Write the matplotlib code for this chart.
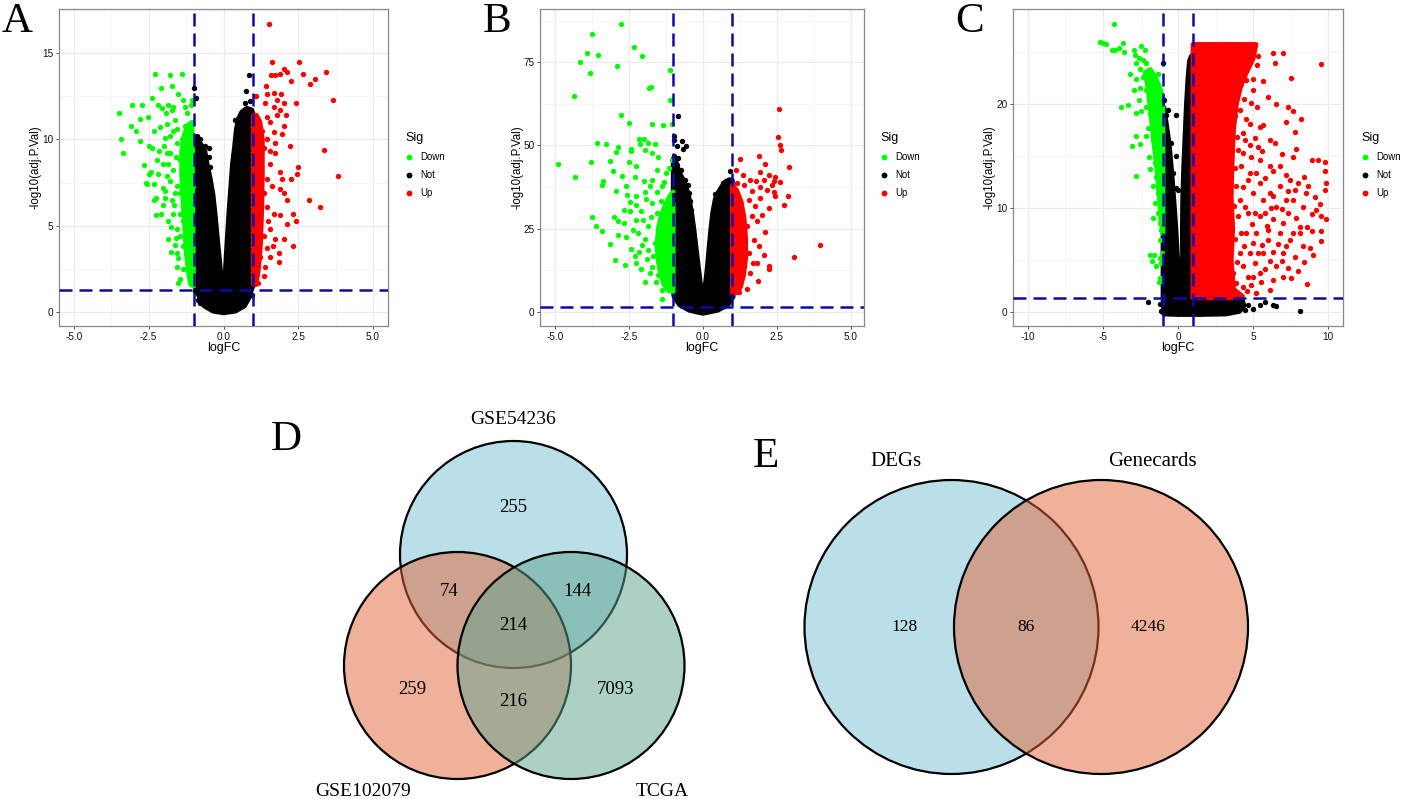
import numpy as np
import matplotlib.pyplot as plt
from matplotlib.lines import Line2D
from matplotlib.patches import Polygon, Circle

plt.rcParams["font.family"] = ["Liberation Sans", "DejaVu Sans"]
SERIF = ["Liberation Serif", "DejaVu Serif"]

W, H = 1412, 799
LOGFC_CUT = 1.0
P_CUT = -np.log10(0.05)

GREEN, BLACK, RED = "#00FF00", "#000000", "#FF0000"
LINE_BLUE = "#0A0AAA"

# ---------------- volcano A (logFC, -log10 adj.P) ----------------
a_down = np.array([
    [-3.49, 11.5], [-3.43, 10.0], [-3.35, 9.2], [-3.07, 12.0], [-3.10, 10.8], [-2.94, 10.5],
    [-2.79, 11.2], [-2.74, 12.0], [-2.79, 9.9], [-2.66, 8.5], [-2.53, 11.3], [-2.40, 12.4],
    [-2.29, 13.8], [-2.10, 13.0], [-1.79, 13.7], [-1.73, 13.1], [-1.40, 13.8], [-1.51, 12.6],
    [-1.36, 12.3], [-1.06, 12.3], [-2.34, 10.5], [-2.40, 9.5], [-2.43, 8.1], [-2.32, 7.4],
    [-2.25, 6.6], [-2.25, 5.6], [-2.10, 5.7], [-2.01, 7.2], [-2.18, 8.0], [-1.84, 4.2],
    [-1.62, 3.9], [-1.51, 3.1], [-1.56, 2.6], [-1.45, 1.9], [-1.51, 1.7], [-1.17, 2.1],
    [-1.09, 1.6], [-1.92, 11.5], [-1.84, 12.0], [-1.68, 11.9], [-1.62, 11.1], [-2.12, 10.7],
    [-1.95, 10.1], [-1.79, 9.2], [-2.03, 8.6], [-1.90, 7.9], [-1.73, 6.5], [-1.56, 7.3],
    [-1.45, 8.8], [-1.40, 10.0], [-1.28, 10.8], [-1.23, 11.5], [-1.12, 10.8], [-1.45, 5.7],
    [-1.56, 4.8], [-1.34, 3.8], [-1.23, 4.6], [-1.28, 6.5], [-1.17, 8.0], [-1.06, 9.4],
    [-1.12, 6.1], [-1.09, 5.0], [-1.06, 3.0], [-1.17, 3.2], [-1.36, 2.5], [-1.03, 7.3],
    [-1.68, 10.5], [-1.90, 9.2], [-2.23, 8.8], [-1.68, 8.2], [-1.84, 5.3], [-1.68, 5.7],
    [-2.01, 6.2], [-2.34, 6.5], [-2.57, 7.4], [-2.48, 8.0], [-1.56, 9.8], [-1.23, 9.4],
    [-1.23, 7.5], [-1.34, 8.4], [-1.45, 6.9], [-1.62, 6.9], [-1.34, 5.3], [-1.23, 5.3],
    [-1.06, 4.2], [-1.45, 4.4], [-1.73, 11.7], [-1.90, 10.9], [-2.20, 12.0], [-1.10, 12.0],
    [-1.30, 11.9], [-1.95, 7.0], [-2.60, 7.5], [-2.50, 9.6], [-1.60, 4.3], [-1.75, 3.5],
    [-1.80, 7.6], [-1.85, 8.6], [-2.00, 9.6], [-1.60, 9.0], [-1.55, 10.6], [-1.80, 10.2],
    [-2.05, 11.8], [-1.65, 6.2], [-1.95, 6.6], [-1.75, 4.9], [-1.55, 3.4], [-2.15, 9.3],
])
a_up = np.array([
    [1.53, 16.7], [1.62, 14.5], [2.52, 14.5], [2.01, 14.1], [2.12, 13.9], [1.90, 13.8],
    [2.66, 13.8], [3.44, 13.9], [3.05, 13.5], [2.88, 13.2], [2.27, 13.4], [1.59, 13.7],
    [1.73, 13.7], [1.43, 13.1], [3.65, 12.3], [2.41, 12.1], [2.01, 12.1], [1.92, 12.6],
    [1.68, 12.7], [1.09, 12.5], [1.40, 12.1], [1.68, 11.9], [1.90, 11.7], [1.79, 11.4],
    [1.45, 11.3], [1.17, 11.1], [1.56, 11.0], [2.01, 10.8], [1.28, 10.5], [1.68, 10.4],
    [1.96, 10.3], [1.09, 10.0], [1.45, 10.0], [1.73, 9.8], [2.21, 9.6], [3.35, 9.4],
    [1.34, 9.5], [1.17, 9.0], [1.73, 9.2], [1.56, 8.6], [1.23, 8.4], [2.50, 8.4],
    [1.90, 8.1], [2.47, 8.0], [3.82, 7.9], [1.12, 7.9], [1.45, 7.7], [2.27, 7.7],
    [1.96, 7.7], [1.17, 7.2], [1.62, 7.3], [1.90, 7.1], [2.01, 6.9], [1.34, 6.9],
    [1.12, 6.5], [2.85, 6.5], [2.12, 6.5], [3.24, 6.1], [1.45, 6.1], [1.23, 5.7],
    [1.68, 5.7], [2.34, 5.7], [1.90, 5.6], [2.43, 5.3], [2.12, 5.1], [1.17, 5.0],
    [1.56, 4.8], [1.34, 4.4], [1.12, 4.2], [2.01, 4.2], [1.73, 4.2], [2.34, 3.8],
    [1.45, 3.7], [1.84, 3.4], [1.23, 3.2], [1.56, 3.2], [1.87, 2.9], [1.12, 2.8],
    [1.40, 2.6], [1.12, 2.3], [1.34, 2.1], [1.17, 1.7], [1.06, 1.6], [1.55, 9.3],
    [1.50, 5.3], [1.65, 3.8], [1.45, 12.6], [1.80, 12.3], [2.10, 11.4],
])
a_not = np.array([
    [-0.98, 12.97], [-0.92, 12.4], [-0.89, 10.2], [-0.78, 10.0], [-0.61, 9.6], [-0.47, 9.5],
    [-0.50, 9.0], [-0.67, 9.2], [-0.45, 8.4], [-0.78, 0.5], [-0.85, 0.7], [0.84, 13.7],
    [0.75, 12.8], [0.73, 12.1], [0.47, 11.2], [0.39, 11.1], [0.60, 11.5], [0.78, 11.7],
    [0.50, 10.8], [0.42, 10.4], [0.37, 9.8], [0.90, 12.2], [0.95, 1.0], [-0.95, 1.2],
])
# outlines of the solid, overplotted parts of each cloud
a_not_core = [
    (0.0, -0.05), (-0.35, 0.05), (-0.65, 0.35), (-0.8, 0.85), (-0.92, 1.3), (-1.0, 1.6),
    (-1.0, 10.2), (-0.9, 10.1), (-0.75, 9.7), (-0.62, 9.3), (-0.55, 8.6), (-0.45, 7.8),
    (-0.35, 6.8), (-0.27, 5.5), (-0.2, 4.2), (-0.12, 2.8), (-0.04, 1.1), (0.02, 1.1),
    (0.08, 3.0), (0.13, 4.4), (0.18, 5.8), (0.24, 7.2), (0.3, 8.6), (0.37, 9.6),
    (0.43, 10.6), (0.5, 11.2), (0.62, 11.6), (0.78, 11.8), (0.95, 11.7), (1.0, 11.4),
    (1.0, 1.6), (0.93, 1.25), (0.85, 0.8), (0.7, 0.35), (0.4, 0.05),
]
a_down_core = [
    (-1.0, 1.5), (-1.1, 1.6), (-1.18, 2.4), (-1.25, 3.5), (-1.3, 5.0), (-1.36, 6.5),
    (-1.4, 8.0), (-1.4, 9.3), (-1.32, 10.2), (-1.2, 10.8), (-1.05, 11.0),
]
a_up_core = [
    (1.0, 1.6), (1.1, 1.7), (1.17, 2.5), (1.24, 4.0), (1.28, 6.0), (1.3, 8.0),
    (1.3, 10.0), (1.22, 11.0), (1.1, 11.4), (1.0, 11.4),
]

# ---------------- volcano B ----------------
b_down = np.array([
    [-2.77, 86.4], [-3.73, 83.4], [-2.32, 79.5], [-3.90, 77.8], [-3.54, 77.2], [-2.05, 77.0],
    [-4.16, 75.0], [-2.90, 74.0], [-3.80, 71.9], [-1.11, 72.8], [-1.75, 67.5], [-1.82, 67.2],
    [-4.36, 64.9], [-1.11, 63.5], [-2.75, 59.0], [-2.49, 56.7], [-1.72, 56.5], [-1.33, 56.2],
    [-1.03, 56.5], [-4.90, 44.4], [-4.33, 40.6], [-3.77, 45.1], [-3.58, 50.8], [-3.26, 50.4],
    [-2.86, 49.6], [-2.94, 48.1], [-2.44, 48.8], [-2.15, 51.9], [-1.99, 51.9], [-2.13, 50.5],
    [-1.84, 50.7], [-1.60, 50.5], [-2.44, 48.2], [-1.96, 48.7], [-1.73, 47.7], [-1.50, 46.5],
    [-1.05, 45.7], [-3.13, 45.2], [-2.50, 44.9], [-2.24, 43.7], [-3.03, 42.4], [-2.74, 40.7],
    [-3.37, 39.2], [-3.40, 38.0], [-2.94, 36.2], [-2.60, 37.7], [-2.56, 35.2], [-2.24, 34.7],
    [-2.26, 32.2], [-2.67, 30.5], [-2.47, 30.2], [-2.10, 30.2], [-1.93, 33.9], [-1.79, 37.7],
    [-1.99, 39.2], [-1.70, 39.7], [-1.56, 35.9], [-1.40, 33.2], [-1.39, 37.7], [-1.24, 41.7],
    [-1.13, 43.2], [-3.73, 28.6], [-3.62, 25.7], [-3.40, 24.2], [-3.00, 28.5], [-2.86, 27.2],
    [-2.66, 26.7], [-2.87, 23.2], [-2.58, 22.5], [-3.12, 20.4], [-2.41, 18.9], [-2.96, 15.5],
    [-2.64, 13.9], [-2.30, 16.7], [-2.24, 14.7], [-2.07, 12.7], [-1.96, 8.9], [-1.79, 11.7],
    [-1.58, 8.9], [-1.39, 6.5], [-1.38, 3.9], [-2.18, 23.7], [-2.01, 27.7], [-2.35, 24.7],
    [-1.73, 32.7], [-1.84, 25.7], [-1.62, 20.7], [-1.67, 16.7], [-1.90, 15.7], [-1.33, 15.7],
    [-1.45, 23.7], [-1.22, 29.7], [-1.56, 29.7], [-1.11, 10.7], [-1.22, 7.7], [-2.05, 20.0],
    [-2.25, 27.5], [-2.45, 33.0], [-1.95, 36.0], [-2.30, 40.5], [-1.55, 42.5], [-1.30, 39.0],
    [-1.75, 28.5], [-1.95, 22.0], [-1.85, 18.5], [-1.70, 13.5], [-1.50, 11.0], [-2.15, 18.0],
])
b_up = np.array([
    [2.57, 61.0], [2.53, 52.5], [2.62, 50.0], [2.65, 48.5], [1.90, 46.7], [1.27, 46.0],
    [2.09, 44.5], [2.93, 43.5], [1.13, 42.5], [1.95, 42.0], [2.23, 41.2], [2.45, 40.5],
    [1.36, 41.2], [1.61, 39.7], [1.81, 39.2], [2.06, 39.7], [2.42, 39.2], [2.34, 38.2],
    [1.15, 38.7], [1.40, 38.2], [1.66, 36.2], [2.17, 36.7], [2.45, 34.7], [2.87, 34.7],
    [2.74, 32.2], [1.95, 34.2], [1.55, 33.7], [1.27, 33.2], [1.78, 31.7], [2.23, 31.2],
    [1.32, 29.7], [1.66, 28.7], [2.00, 29.2], [1.15, 26.7], [1.49, 25.7], [1.83, 27.2],
    [1.38, 22.7], [1.72, 21.7], [1.89, 19.7], [1.27, 18.7], [1.55, 17.7], [2.06, 16.9],
    [2.23, 13.7], [1.83, 14.7], [1.38, 13.7], [1.15, 11.7], [1.61, 11.7], [1.86, 9.2],
    [1.27, 8.7], [1.49, 6.7], [1.21, 5.9], [3.96, 20.2], [3.10, 16.5], [2.23, 12.7],
    [1.70, 14.7], [1.15, 23.7], [1.04, 31.7], [1.10, 15.7], [2.10, 24.0], [2.40, 36.0],
    [1.95, 37.5], [2.60, 39.0],
])
b_not = np.array([
    [-0.83, 58.7], [-0.97, 52.7], [-0.71, 51.2], [-0.57, 49.7], [-0.66, 48.9], [-0.97, 46.7],
    [-0.83, 46.2], [-0.86, 44.2], [-0.75, 42.5], [-0.90, 41.7], [-0.60, 39.7], [-0.49, 38.2],
    [-0.66, 37.2], [-0.45, 35.7], [-0.97, 35.2], [-0.88, 33.7], [-0.43, 33.2], [-0.40, 30.7],
    [-0.54, 28.2], [0.93, 42.2], [0.79, 39.2], [0.70, 38.7], [0.42, 35.4], [0.53, 34.7],
    [0.48, 29.7], [-0.97, 51.7], [-0.88, 49.7],
])
b_not_core = [
    (0.0, -0.5), (-0.45, 0.4), (-0.78, 2.0), (-0.97, 4.5), (-1.0, 6.0), (-1.0, 46.0),
    (-0.9, 45.0), (-0.8, 42.0), (-0.68, 40.0), (-0.56, 37.5), (-0.47, 34.5), (-0.38, 30.0),
    (-0.3, 25.0), (-0.22, 19.0), (-0.14, 13.0), (-0.07, 8.0), (-0.02, 6.2), (0.05, 6.2),
    (0.1, 9.0), (0.16, 14.0), (0.22, 20.0), (0.28, 25.5), (0.34, 30.0), (0.42, 33.8),
    (0.5, 35.5), (0.62, 37.3), (0.75, 39.0), (0.9, 39.7), (1.0, 39.5), (1.0, 6.0),
    (1.03, 4.5), (0.85, 2.0), (0.5, 0.4),
]
b_down_core = [
    (-1.0, 6.0), (-1.15, 6.3), (-1.3, 8.0), (-1.42, 11.0), (-1.5, 15.0), (-1.55, 20.0),
    (-1.5, 25.0), (-1.4, 29.0), (-1.25, 32.5), (-1.1, 35.0), (-1.0, 36.0),
]
b_up_core = [
    (1.0, 5.5), (1.15, 5.7), (1.28, 7.5), (1.38, 11.0), (1.45, 16.0), (1.45, 22.0),
    (1.4, 28.0), (1.3, 33.0), (1.15, 36.5), (1.0, 38.0),
]

# ---------------- volcano C ----------------
c_down = np.array([
    [-4.29, 27.7], [-5.22, 25.9], [-5.00, 25.8], [-4.78, 25.7], [-4.38, 25.2], [-4.18, 25.2],
    [-3.96, 25.4], [-3.67, 25.8], [-3.62, 25.0], [-2.93, 25.2], [-2.44, 25.5], [-2.22, 25.2],
    [-2.84, 24.7], [-2.62, 24.4], [-2.33, 24.2], [-2.78, 23.9], [-2.11, 23.9], [-2.56, 23.3],
    [-3.22, 22.9], [-2.82, 22.4], [-2.33, 22.6], [-1.89, 22.5], [-1.33, 22.9], [-1.67, 22.0],
    [-2.96, 21.3], [-2.56, 21.5], [-2.11, 21.3], [-1.56, 21.2], [-1.22, 21.0], [-2.60, 20.4],
    [-1.93, 20.4], [-3.78, 19.7], [-3.33, 19.9], [-2.44, 19.3], [-2.11, 19.7], [-1.67, 19.7],
    [-1.33, 20.1], [-2.78, 19.1], [-1.89, 19.1], [-1.44, 18.8], [-1.11, 19.1], [-2.00, 17.7],
    [-1.56, 17.5], [-1.22, 17.8], [-2.82, 16.9], [-2.11, 16.9], [-1.67, 16.5], [-1.22, 16.5],
    [-3.04, 15.9], [-2.56, 16.1], [-1.44, 15.6], [-1.11, 15.3], [-1.93, 14.9], [-1.56, 14.3],
    [-1.22, 14.1], [-2.78, 13.1], [-1.89, 13.7], [-1.44, 13.0], [-1.11, 12.7], [-1.67, 12.1],
    [-1.33, 11.4], [-1.11, 10.8], [-1.56, 10.5], [-1.33, 9.5], [-1.67, 9.0], [-1.22, 8.5],
    [-1.11, 7.9], [-1.22, 6.9], [-1.89, 5.5], [-1.62, 5.5], [-1.71, 4.9], [-1.44, 4.4],
    [-1.22, 5.2], [-1.11, 4.7], [-1.22, 3.3], [-1.27, 2.9], [-1.07, 5.7],
])
c_up = np.array([
    [6.33, 24.9], [7.00, 24.9], [6.44, 23.9], [9.51, 23.8], [5.33, 24.6], [5.27, 23.7],
    [7.51, 22.5], [5.67, 22.2], [5.00, 22.4], [4.56, 22.3], [6.00, 20.6], [6.56, 20.0],
    [5.27, 19.7], [4.89, 20.1], [7.33, 19.7], [7.67, 19.3], [8.22, 18.5], [7.18, 18.2],
    [5.67, 18.0], [4.78, 18.1], [5.11, 16.7], [4.33, 17.2], [7.82, 17.3], [6.44, 16.2],
    [7.89, 15.7], [7.67, 14.9], [5.44, 14.6], [6.11, 14.0], [6.78, 14.0], [8.93, 14.6],
    [9.33, 14.6], [9.78, 14.4], [9.78, 13.5], [6.33, 13.5], [5.22, 13.3], [5.78, 12.9],
    [7.44, 12.7], [8.00, 12.4], [8.67, 12.1], [9.89, 12.4], [9.78, 11.7], [7.33, 11.6],
    [7.78, 11.7], [6.11, 11.4], [5.00, 11.4], [5.67, 10.8], [6.56, 10.1], [9.49, 10.4],
    [9.18, 9.8], [9.56, 9.2], [9.89, 8.9], [7.33, 9.5], [7.89, 9.0], [7.00, 8.5],
    [6.33, 8.9], [5.44, 9.2], [4.67, 9.5], [8.60, 8.2], [8.10, 8.2], [9.56, 7.8],
    [8.96, 7.8], [9.56, 6.8], [8.11, 7.6], [6.78, 7.6], [6.00, 6.9], [5.22, 7.6],
    [7.44, 6.9], [8.33, 6.3], [8.78, 6.1], [9.00, 5.5], [7.78, 5.3], [7.00, 5.7],
    [6.33, 5.8], [5.67, 5.7], [4.78, 5.7], [7.33, 4.2], [8.00, 3.9], [6.56, 4.4],
    [5.78, 4.1], [5.11, 4.7], [8.60, 2.7], [7.00, 3.4], [6.33, 3.1], [5.56, 2.9],
    [4.89, 2.6], [6.11, 2.1], [5.22, 1.8], [7.56, 3.3], [4.33, 4.4], [4.22, 7.6],
    [4.11, 10.8], [4.22, 14.0], [4.44, 16.5], [4.67, 12.7], [4.89, 14.9], [6.78, 12.1],
    [7.22, 10.8], [8.33, 10.1], [8.56, 11.4], [7.67, 10.8], [5.78, 9.5], [6.67, 6.5],
    [7.67, 7.6], [5.00, 6.6], [5.44, 12.4], [6.11, 16.5], [5.44, 17.8], [5.00, 21.3],
    [4.67, 23.6], [4.11, 19.4], [4.00, 15.6], [3.89, 12.1], [4.00, 9.2], [4.11, 5.7],
    [3.89, 2.8], [3.67, 3.7], [4.56, 7.6], [4.44, 10.1], [4.78, 13.3], [4.33, 15.3],
    [4.56, 18.5], [5.11, 9.5], [5.33, 5.7], [4.67, 3.4], [5.44, 3.7], [6.00, 7.9],
    [6.33, 11.1], [4.20, 24.5], [3.90, 22.8], [4.40, 20.5], [3.80, 18.8], [5.60, 15.5],
    [6.90, 15.2], [7.20, 13.2], [8.40, 13.0], [9.10, 11.0], [8.90, 9.4], [6.90, 9.9],
    [6.20, 10.0], [5.90, 8.3], [4.90, 8.4], [5.60, 6.4], [4.40, 6.3], [7.20, 6.3],
    [8.40, 4.8], [6.90, 4.9], [6.10, 4.9], [4.30, 2.4], [4.60, 2.0], [5.00, 3.4],
    [3.80, 13.8], [3.70, 10.2], [3.80, 7.0], [3.90, 4.8], [4.30, 12.0], [3.95, 16.8],
    [4.80, 16.0], [5.30, 15.8],
])
c_not = np.array([
    [-1.00, 23.9], [-0.96, 20.4], [-0.67, 19.4], [-0.78, 18.9], [-0.11, 18.9], [-0.16, 15.0],
    [-0.11, 11.9], [0.00, 11.7], [-0.33, 13.3], [-0.44, 16.2], [-2.00, 1.0], [-1.22, 0.8],
    [-1.11, 0.06], [3.67, 0.9], [4.22, 1.0], [4.67, 0.7], [5.00, 0.3], [5.44, 0.7],
    [5.78, 1.0], [6.33, 0.7], [6.56, 0.6], [8.16, 0.06], [4.44, 0.2], [4.00, 0.4],
    [3.44, 0.06],
])
c_not_core = [
    (-0.95, -0.2), (-1.0, 1.3), (-1.0, 19.5), (-0.92, 19.6), (-0.8, 18.3), (-0.62, 16.5),
    (-0.5, 14.8), (-0.38, 12.8), (-0.26, 10.5), (-0.14, 8.0), (-0.04, 5.5), (0.08, 3.5),
    (0.2, 2.3), (0.3, 2.6), (0.3, 5.0), (0.29, 8.0), (0.31, 11.0), (0.38, 14.0),
    (0.47, 17.0), (0.56, 20.0), (0.66, 22.4), (0.76, 24.1), (0.9, 24.6), (1.0, 24.3),
    (1.0, 1.3), (2.0, 1.4), (3.0, 1.35), (3.8, 1.35), (4.3, 1.1), (4.4, 0.6),
    (4.1, 0.05), (3.2, -0.2), (1.5, -0.25), (0.0, -0.25),
]
c_down_core = [
    (-1.0, 7.5), (-1.12, 8.5), (-1.25, 11.0), (-1.4, 13.5), (-1.55, 15.5), (-1.7, 17.5),
    (-1.85, 19.5), (-2.0, 21.5), (-2.2, 23.0), (-1.85, 23.3), (-1.5, 22.5), (-1.2, 21.5),
    (-1.0, 20.5),
]
c_up_core = [
    (1.0, 1.35), (1.0, 25.7), (5.2, 25.7), (5.0, 24.3), (4.5, 22.8), (4.15, 21.5),
    (3.9, 20.0), (3.7, 17.5), (3.6, 14.0), (3.55, 11.0), (3.65, 8.0), (3.55, 5.0),
    (3.7, 2.2), (4.3, 1.5), (3.5, 1.35),
]

# ---------------- Venn diagrams ----------------
d_sets = ["GSE54236", "GSE102079", "TCGA"]
d_counts = [255, 74, 144, 214, 259, 216, 7093]   # top, top&left, top&right, all, left, left&right, right
e_sets = ["DEGs", "Genecards"]
e_counts = [128, 86, 4246]                        # DEGs only, both, Genecards only

fig = plt.figure(figsize=(W / 100, H / 100), dpi=100)
fig.patch.set_facecolor("white")


def px_axes(x0, y0, x1, y1):
    return fig.add_axes([x0 / W, 1 - y1 / H, (x1 - x0) / W, (y1 - y0) / H])


def volcano(box, down, nots, ups, cores, xlim, ylim, xmaj, xlabels, ymaj, legend_xy):
    ax = px_axes(*box)
    for core, col in cores:
        ax.add_patch(Polygon(core, closed=True, fc=col, ec=col, lw=3.4,
                             joinstyle="round", zorder=2))
    for pts, col in [(nots, BLACK), (down, GREEN), (ups, RED)]:
        ax.scatter(pts[:, 0], pts[:, 1], s=15, c=col, linewidths=0, zorder=3)
    ax.axvline(-LOGFC_CUT, color=LINE_BLUE, lw=1.8, dashes=(5.2, 2.8), zorder=4)
    ax.axvline(LOGFC_CUT, color=LINE_BLUE, lw=1.8, dashes=(5.2, 2.8), zorder=4)
    ax.axhline(P_CUT, color=LINE_BLUE, lw=1.8, dashes=(5.2, 2.8), zorder=4)

    ax.set_xlim(*xlim)
    ax.set_ylim(*ylim)
    ax.set_xticks(xmaj)
    ax.set_xticklabels(xlabels)
    ax.set_xticks([(a + b) / 2 for a, b in zip(xmaj[:-1], xmaj[1:])], minor=True)
    ax.set_yticks(ymaj)
    ax.set_yticklabels([str(v) for v in ymaj])
    step = ymaj[1] - ymaj[0]
    ax.set_yticks([v + step / 2 for v in ymaj], minor=True)
    ax.grid(which="major", color="#EBEBEB", lw=0.9)
    ax.grid(which="minor", color="#F3F3F3", lw=0.5)
    ax.set_axisbelow(True)
    for sp in ax.spines.values():
        sp.set_color("#8A8A8A")
        sp.set_linewidth(0.9)
    ax.tick_params(which="major", length=2.5, width=0.6, color="#333333",
                   labelsize=7.2, labelcolor="#111111", pad=1.5)
    ax.tick_params(which="minor", length=0)
    ax.set_xlabel("logFC", fontsize=9)
    ax.set_ylabel("-log10(adj.P.Val)", fontsize=8.3)
    bw = box[2] - box[0]
    bh = box[3] - box[1]
    ax.xaxis.set_label_coords(0.5, -16 / bh)
    ax.yaxis.set_label_coords(-17 / bw, 0.5)

    handles = [Line2D([], [], ls="", marker="o", ms=4.2, mec="none", color=c)
               for c in (GREEN, BLACK, RED)]
    ax.legend(handles, ["Down", "Not", "Up"], title="Sig", loc="upper left",
              bbox_to_anchor=(legend_xy[0] / W, 1 - legend_xy[1] / H),
              bbox_transform=fig.transFigure, frameon=False, fontsize=6.9,
              title_fontsize=9, handletextpad=0.8, handlelength=0.8,
              labelspacing=0.85, borderpad=0, borderaxespad=0, alignment="left")
    return ax


volcano((59, 9, 388, 326), a_down, a_not, a_up,
        [(a_not_core, BLACK), (a_down_core, GREEN), (a_up_core, RED)],
        (-5.5, 5.5), (-0.81, 17.55), [-5, -2.5, 0, 2.5, 5],
        ["-5.0", "-2.5", "0.0", "2.5", "5.0"], [0, 5, 10, 15], (405, 132))
volcano((540, 9, 864, 326), b_down, b_not, b_up,
        [(b_not_core, BLACK), (b_down_core, GREEN), (b_up_core, RED)],
        (-5.5, 5.45), (-4.3, 91.0), [-5, -2.5, 0, 2.5, 5],
        ["-5.0", "-2.5", "0.0", "2.5", "5.0"], [0, 25, 50, 75], (880, 132))
volcano((1013, 9, 1343, 326), c_down, c_not, c_up,
        [(c_not_core, BLACK), (c_down_core, GREEN), (c_up_core, RED)],
        (-11, 11), (-1.35, 29.1), [-10, -5, 0, 5, 10],
        ["-10", "-5", "0", "5", "10"], [0, 10, 20], (1361, 132))

# Venn panels drawn in figure pixel coordinates
vax = fig.add_axes([0, 0, 1, 1])
vax.set_xlim(0, W)
vax.set_ylim(H, 0)
vax.set_axis_off()

BLUE_FILL = (119 / 255, 193 / 255, 213 / 255, 0.5)
SALMON_FILL = (227 / 255, 101 / 255, 55 / 255, 0.5)
TEAL_FILL = (93 / 255, 163 / 255, 141 / 255, 0.5)

d_circles = [((513.5, 554.5), BLUE_FILL), ((457.5, 665.5), SALMON_FILL), ((571.0, 665.5), TEAL_FILL)]
for (cx, cy), fc in d_circles:
    vax.add_patch(Circle((cx, cy), 113.5, fc=fc, ec="black", lw=1.6))

d_label_xy = [(513, 420), (363, 792), (662, 792)]
for name, (x, y) in zip(d_sets, d_label_xy):
    vax.text(x, y, name, family=SERIF, fontsize=14, ha="center", va="center")
d_count_xy = [(513, 508), (449, 591), (577, 591), (513, 626), (412, 690), (513, 702), (615, 690)]
for n, (x, y) in zip(d_counts, d_count_xy):
    vax.text(x, y, str(n), family=SERIF, fontsize=13.5, ha="center", va="center")

e_circles = [((951.5, 627), BLUE_FILL), ((1101.0, 627), SALMON_FILL)]
for (cx, cy), fc in e_circles:
    vax.add_patch(Circle((cx, cy), 147, fc=fc, ec="black", lw=1.6))
e_label_xy = [(896, 462), (1152, 462)]
for name, (x, y) in zip(e_sets, e_label_xy):
    vax.text(x, y, name, family=SERIF, fontsize=15, ha="center", va="center")
e_count_xy = [(905, 627), (1026, 627), (1148, 627)]
for n, (x, y) in zip(e_counts, e_count_xy):
    vax.text(x, y, str(n), family=SERIF, fontsize=12.5, ha="center", va="center")

# panel letters
for letter, (x, y) in zip("ABCDE", [(17, 22), (497, 22), (970, 22), (286, 440), (766, 457)]):
    vax.text(x, y, letter, family=SERIF, fontsize=31, ha="center", va="center")

fig.savefig("out.png", dpi=100, facecolor="white")
